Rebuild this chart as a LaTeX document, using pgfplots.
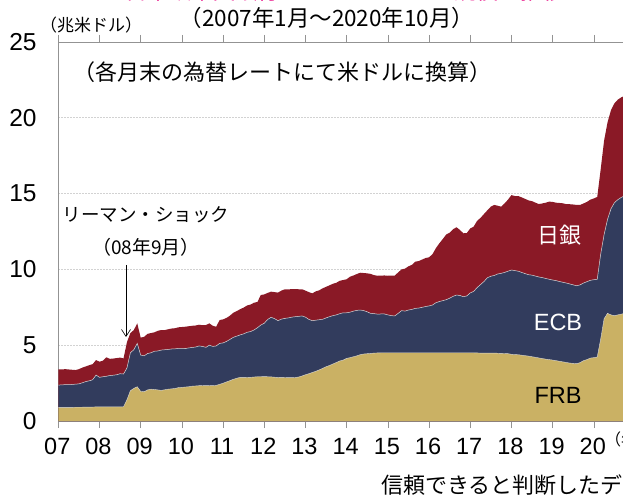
\documentclass[border=0pt]{standalone}
\usepackage{pgfplots}
\pgfplotsset{compat=1.18}
\usepackage{pgfplotstable}
\usepackage{fontspec}
\setmainfont{Liberation Sans}
\newfontfamily\jp{Noto Sans CJK JP}
\usetikzlibrary{arrows.meta}
\definecolor{frb}{RGB}{202,177,100}
\definecolor{ecb}{RGB}{50,60,93}
\definecolor{boj}{RGB}{138,25,38}
\definecolor{mag}{RGB}{230,0,126}
\pgfplotstableread{
m F E T
0 0.90 2.37 3.41
1 0.90 2.38 3.40
2 0.90 2.40 3.42
3 0.90 2.40 3.40
4 0.90 2.41 3.38
5 0.91 2.43 3.36
6 0.91 2.45 3.42
7 0.91 2.52 3.52
8 0.92 2.60 3.60
9 0.92 2.65 3.68
10 0.92 2.72 3.75
11 0.93 3.03 4.02
12 0.93 2.88 3.91
13 0.93 2.92 3.98
14 0.93 2.95 4.20
15 0.93 3.00 4.10
16 0.93 3.02 4.12
17 0.93 3.05 4.15
18 0.93 3.12 4.18
19 0.94 3.10 4.13
20 1.40 3.50 5.20
21 2.00 4.50 5.80
22 2.15 4.70 6.00
23 2.26 5.12 6.44
24 1.95 4.35 5.50
25 1.93 4.30 5.55
26 2.05 4.45 5.75
27 2.10 4.50 5.80
28 2.08 4.60 5.85
29 2.05 4.62 5.95
30 2.02 4.68 6.00
31 2.06 4.70 6.00
32 2.10 4.72 6.05
33 2.12 4.75 6.10
34 2.15 4.76 6.12
35 2.20 4.79 6.18
36 2.22 4.79 6.20
37 2.24 4.78 6.22
38 2.26 4.82 6.25
39 2.30 4.85 6.28
40 2.31 4.88 6.30
41 2.33 4.95 6.35
42 2.34 4.92 6.32
43 2.33 4.86 6.33
44 2.34 5.00 6.44
45 2.33 4.92 6.28
46 2.35 4.95 6.22
47 2.42 5.12 6.66
48 2.49 5.15 6.70
49 2.58 5.25 6.80
50 2.66 5.38 6.95
51 2.75 5.52 7.14
52 2.82 5.60 7.25
53 2.88 5.68 7.38
54 2.88 5.75 7.48
55 2.87 5.85 7.62
56 2.88 5.90 7.68
57 2.90 6.00 7.80
58 2.92 6.15 7.85
59 2.92 6.33 8.31
60 2.93 6.45 8.35
61 2.92 6.70 8.45
62 2.91 6.84 8.53
63 2.89 6.75 8.50
64 2.87 6.62 8.47
65 2.88 6.72 8.60
66 2.87 6.77 8.69
67 2.86 6.80 8.68
68 2.86 6.85 8.70
69 2.87 6.88 8.70
70 2.90 6.90 8.69
71 2.97 6.93 8.69
72 3.05 6.85 8.60
73 3.12 6.70 8.50
74 3.20 6.62 8.42
75 3.28 6.65 8.55
76 3.37 6.68 8.62
77 3.47 6.71 8.75
78 3.58 6.80 8.85
79 3.66 6.88 8.95
80 3.76 6.95 9.05
81 3.86 7.00 9.12
82 3.96 7.08 9.25
83 4.02 7.14 9.30
84 4.13 7.14 9.35
85 4.18 7.18 9.52
86 4.24 7.25 9.60
87 4.30 7.30 9.70
88 4.38 7.32 9.78
89 4.42 7.28 9.76
90 4.44 7.20 9.74
91 4.46 7.10 9.70
92 4.48 7.08 9.62
93 4.49 7.05 9.58
94 4.50 7.06 9.59
95 4.50 7.06 9.60
96 4.50 7.00 9.58
97 4.50 6.95 9.59
98 4.50 6.93 9.59
99 4.50 7.10 9.80
100 4.50 7.28 10.00
101 4.50 7.25 10.05
102 4.50 7.32 10.20
103 4.50 7.36 10.30
104 4.50 7.43 10.51
105 4.50 7.45 10.55
106 4.50 7.50 10.65
107 4.50 7.55 10.75
108 4.50 7.59 10.80
109 4.50 7.65 11.00
110 4.50 7.80 11.40
111 4.50 7.88 11.72
112 4.50 7.94 12.00
113 4.50 8.00 12.30
114 4.50 8.10 12.42
115 4.50 8.22 12.65
116 4.50 8.31 12.78
117 4.50 8.28 12.60
118 4.50 8.20 12.38
119 4.50 8.25 12.40
120 4.50 8.45 12.70
121 4.50 8.55 12.82
122 4.49 8.80 13.20
123 4.48 9.00 13.40
124 4.48 9.20 13.65
125 4.48 9.45 13.90
126 4.48 9.55 14.14
127 4.48 9.60 14.25
128 4.47 9.70 14.20
129 4.46 9.74 14.14
130 4.45 9.80 14.35
131 4.44 9.88 14.60
132 4.40 9.96 14.90
133 4.38 9.92 14.84
134 4.37 9.88 14.84
135 4.34 9.80 14.75
136 4.31 9.72 14.65
137 4.28 9.65 14.55
138 4.24 9.62 14.50
139 4.20 9.56 14.40
140 4.16 9.50 14.31
141 4.12 9.46 14.35
142 4.08 9.40 14.40
143 4.05 9.35 14.47
144 4.02 9.30 14.45
145 3.98 9.26 14.40
146 3.94 9.20 14.38
147 3.90 9.15 14.36
148 3.86 9.10 14.30
149 3.82 9.04 14.30
150 3.80 8.98 14.28
151 3.78 8.92 14.25
152 3.85 8.98 14.25
153 3.98 9.10 14.35
154 4.05 9.19 14.45
155 4.15 9.28 14.60
156 4.18 9.32 14.68
157 4.22 9.35 14.78
158 5.40 11.00 16.60
159 6.75 12.30 18.50
160 7.10 13.30 19.70
161 7.00 14.00 20.50
162 6.95 14.40 20.95
163 7.00 14.60 21.20
164 7.05 14.75 21.35
165 7.10 14.85 21.45
}\data
\begin{document}
\begin{tikzpicture}[x=1pt,y=1pt]
\useasboundingbox (0,0) rectangle (623,495);
\clip (0,0) rectangle (623,495);
\begin{axis}[
  at={(58.3pt,74pt)}, anchor=south west,
  scale only axis, width=566.4pt, height=379pt,
  xmin=0, xmax=165, ymin=0, ymax=25,
  axis line style={draw=gray!85},
  xtick={0,12,...,156},
  xticklabels={07,08,09,10,11,12,13,14,15,16,17,18,19,20},
  ytick={0,5,...,25},
  tick align=outside, major tick length=7pt,
  x tick style={draw=gray!85, line width=0.6pt},
  y tick style={draw=none},
  ymajorgrids, grid style={gray!35, dash pattern=on 1.5pt off 1.5pt, line width=0.6pt},
  /pgf/number format/assume math mode=true,
  xticklabel style={font=\fontsize{23.5}{27}\selectfont, inner sep=0pt, yshift=-10pt, xshift=-1pt},
  yticklabel style={font=\fontsize{24.5}{28}\selectfont, inner sep=0pt, xshift=-14.5pt},
  clip=true,
]
\addplot[fill=boj, draw=none] table[x=m, y=T] {\data} \closedcycle;
\addplot[fill=ecb, draw=none] table[x=m, y=E] {\data} \closedcycle;
\addplot[fill=frb, draw=none] table[x=m, y=F] {\data} \closedcycle;
\addplot[draw=white!70!gray, line width=0.5pt] table[x=m, y=E] {\data};
\addplot[draw=white!70!gray, line width=0.4pt] table[x=m, y=F] {\data};
\end{axis}
% texts
\node[mag, anchor=base, font=\jp\fontsize{22}{26}\selectfont, inner sep=0pt] at (345,495.8) {日米欧中央銀行のバランスシート規模の推移};
\node[anchor=center, font=\jp\fontsize{22.5}{26}\selectfont, inner sep=0pt] at (327,477) {（2007年1月～2020年10月）};
\node[anchor=center, font=\jp\fontsize{17}{20}\selectfont, inner sep=0pt] at (91,470) {（兆米ドル）};
\node[anchor=center, font=\jp\fontsize{22}{26}\selectfont, inner sep=0pt] at (282,423) {（各月末の為替レートにて米ドルに換算）};
\node[anchor=center, font=\jp\fontsize{18.5}{22}\selectfont, inner sep=0pt] at (146,280) {リーマン・ショック};
\node[anchor=center, font=\jp\fontsize{19}{22}\selectfont, inner sep=0pt] at (146,248) {（08年9月）};
\draw[line width=0.6pt, -{Straight Barb[length=7pt,width=9pt]}] (126,230) -- (126,158);
\node[white, anchor=center, font=\jp\fontsize{22}{26}\selectfont, inner sep=0pt] at (559,260) {日銀};
\node[white, anchor=center, font=\fontsize{23.5}{27}\selectfont, inner sep=0pt] at (558,173) {ECB};
\node[black, anchor=center, font=\fontsize{23.5}{27}\selectfont, inner sep=0pt] at (558,100) {FRB};
\node[anchor=west, font=\jp\fontsize{16}{19}\selectfont, inner sep=0pt] at (605,56) {（年）};
\node[anchor=west, font=\jp\fontsize{22}{26}\selectfont, inner sep=0pt] at (381,10) {信頼できると判断したデータをもとに作成};
\end{tikzpicture}
\end{document}
